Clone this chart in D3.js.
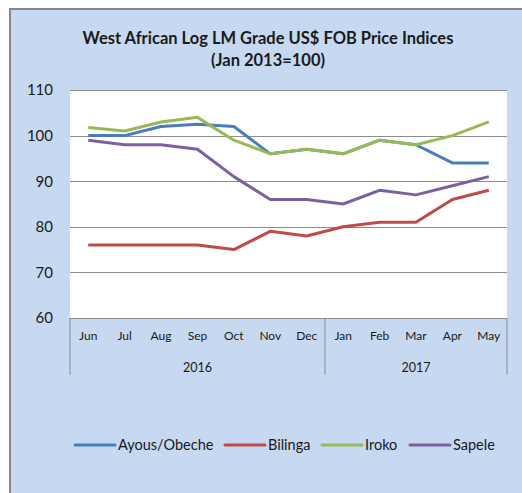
<!DOCTYPE html>
<html>
  <head>
    <meta charset="utf-8">
    <title>West African Log Price Indices</title>
    <script src="https://d3js.org/d3.v7.min.js"></script>
    <style>
      body { margin: 0; background: #fff; }
      svg { display: block; }
      text { font-family: Lato, "Open Sans", sans-serif; fill: #1a1a1a; }
    </style>
  </head>
  <body>
    <div id="chart"></div>
    <script>

      // data
      var months = ["Jun", "Jul", "Aug", "Sep", "Oct", "Nov", "Dec", "Jan", "Feb", "Mar", "Apr", "May"];
      var years = [
        {label: "2016", from: 0, to: 7},
        {label: "2017", from: 7, to: 12}
      ];
      var seriesNames = ["Ayous/Obeche", "Bilinga", "Iroko", "Sapele"];
      var seriesColors = ["#4a7ebb", "#be4b48", "#98b954", "#7d60a0"];
      var ayous   = [100, 100, 102, 102.5, 102, 96, 97, 96, 99, 98, 94, 94];
      var bilinga = [76, 76, 76, 76, 75, 79, 78, 80, 81, 81, 86, 88];
      var iroko   = [101.8, 101, 103, 104, 99, 96, 97, 96, 99, 98, 100, 103];
      var sapele  = [99, 98, 98, 97, 91, 86, 86, 85, 88, 87, 89, 91];
      var yTicks = [60, 70, 80, 90, 100, 110];

      var width = 522, height = 493;
      var plot = {left: 70, right: 507, top: 90, bottom: 318};

      var svg = d3.select("#chart").append("svg")
        .attr("width", width)
        .attr("height", height);

      // outer chart box
      svg.append("rect")
        .attr("x", 10).attr("y", 9)
        .attr("width", width).attr("height", height)
        .attr("fill", "#c6d9f1");
      svg.append("path")
        .attr("d", "M10," + height + "V9H" + width)
        .attr("fill", "none")
        .attr("stroke", "#878787")
        .attr("stroke-width", 2);

      // title
      var title = svg.append("text")
        .attr("x", 268)
        .attr("text-anchor", "middle")
        .style("font-weight", "bold")
        .style("font-size", "16.5px");
      title.append("tspan").attr("x", 268).attr("y", 44)
        .text("West African Log LM Grade US$ FOB Price Indices");
      title.append("tspan").attr("x", 268).attr("y", 66)
        .text("(Jan 2013=100)");

      var x = d3.scaleBand()
        .domain(d3.range(months.length))
        .range([plot.left, plot.right]);

      var y = d3.scaleLinear()
        .domain([60, 110])
        .range([plot.bottom, plot.top]);

      // plot area
      svg.append("rect")
        .attr("x", plot.left).attr("y", plot.top)
        .attr("width", plot.right - plot.left)
        .attr("height", plot.bottom - plot.top)
        .attr("fill", "#fff");

      // gridlines
      svg.append("g").selectAll("line")
        .data(yTicks)
        .enter().append("line")
          .attr("x1", plot.left).attr("x2", plot.right)
          .attr("y1", function (d) { return Math.round(y(d)) + 0.5; })
          .attr("y2", function (d) { return Math.round(y(d)) + 0.5; })
          .attr("stroke", "#8c8c8c")
          .attr("stroke-width", 1);

      // y axis labels
      var yAxis = d3.axisLeft(y).tickValues(yTicks).tickSize(0).tickPadding(0);
      svg.append("g")
        .attr("transform", "translate(" + (plot.left - 17) + ",0)")
        .call(yAxis)
        .call(function (g) { g.select(".domain").remove(); })
        .selectAll("text")
          .style("font-family", "Lato, sans-serif")
          .style("font-size", "15px")
          .attr("fill", "#1a1a1a");

      // month labels
      var xAxis = d3.axisBottom(x)
        .tickFormat(function (i) { return months[i]; })
        .tickSize(0).tickPadding(0);
      svg.append("g")
        .attr("transform", "translate(0," + (plot.bottom + 13) + ")")
        .call(xAxis)
        .call(function (g) { g.select(".domain").remove(); })
        .selectAll("text")
          .style("font-family", "Lato, sans-serif")
          .style("font-size", "12px")
          .attr("fill", "#1a1a1a");

      // category separators
      var bounds = [0, 7, 12];
      svg.append("g").selectAll("line")
        .data(bounds)
        .enter().append("line")
          .attr("x1", function (d) { return d < months.length ? x(d) : plot.right; })
          .attr("x2", function (d) { return d < months.length ? x(d) : plot.right; })
          .attr("y1", plot.bottom)
          .attr("y2", 375)
          .attr("stroke", "#8c8c8c")
          .attr("stroke-width", 1);

      // year labels
      svg.append("g").selectAll("text")
        .data(years)
        .enter().append("text")
          .attr("x", function (d) {
            var right = d.to < months.length ? x(d.to) : plot.right;
            return (x(d.from) + right) / 2;
          })
          .attr("y", 372)
          .attr("text-anchor", "middle")
          .style("font-size", "12.5px")
          .text(function (d) { return d.label; });

      // lines
      var allSeries = [ayous, bilinga, iroko, sapele];
      var line = d3.line()
        .x(function (d, i) { return x(i) + x.bandwidth() / 2; })
        .y(function (d) { return y(d); });

      // draw order: Ayous, Bilinga, Iroko, Sapele
      svg.append("g").selectAll("path")
        .data(allSeries)
        .enter().append("path")
          .attr("d", line)
          .attr("fill", "none")
          .attr("stroke", function (d, i) { return seriesColors[i]; })
          .attr("stroke-width", 3)
          .attr("stroke-linejoin", "round");

      // legend
      var legendX = [75, 225, 322, 410];
      var legend = svg.append("g").selectAll("g")
        .data(seriesNames)
        .enter().append("g")
          .attr("transform", function (d, i) { return "translate(" + legendX[i] + ",445)"; });
      legend.append("line")
        .attr("x1", 0).attr("x2", 40)
        .attr("stroke", function (d, i) { return seriesColors[i]; })
        .attr("stroke-width", 3)
        .attr("stroke-linecap", "round");
      legend.append("text")
        .attr("x", 43)
        .attr("dy", "0.35em")
        .style("font-size", "14.5px")
        .text(function (d) { return d; });

    </script>
  </body>
</html>
